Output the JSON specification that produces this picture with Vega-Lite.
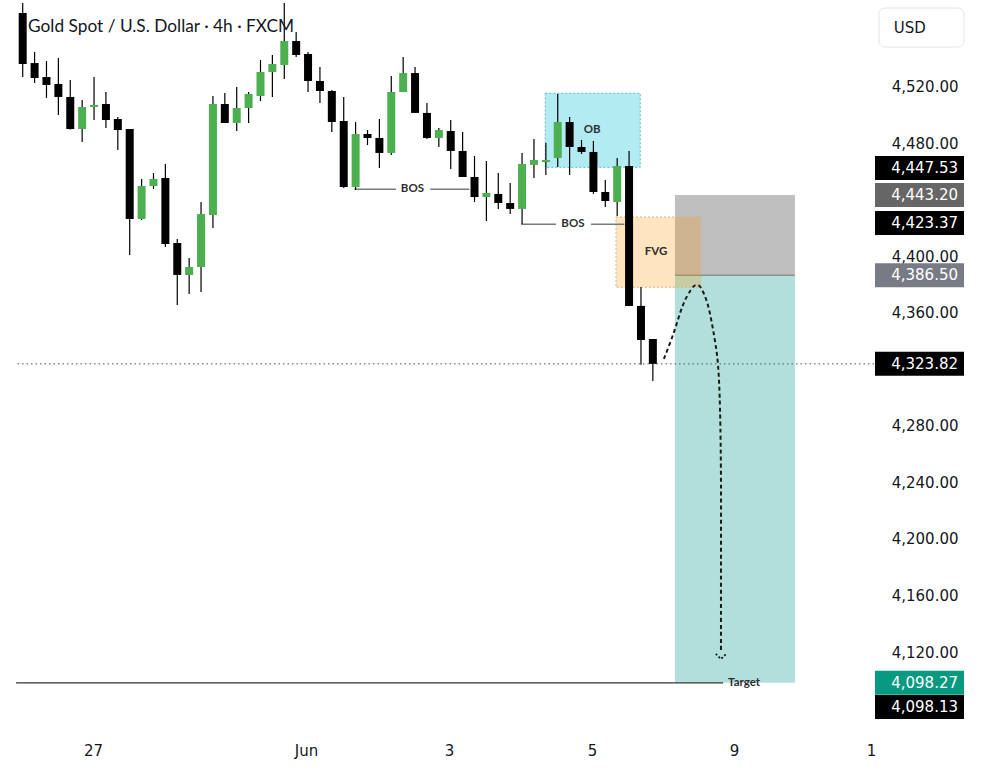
{
  "$schema": "https://vega.github.io/schema/vega-lite/v6.json",
  "background": "#ffffff",
  "padding": {"left": 15, "top": 3, "right": 10, "bottom": 5},
  "spacing": 1,
  "bounds": "flush",
  "datasets": {
    "candles": [
      {"i": 1, "o": 4572.0, "h": 4581.2, "l": 4526.7, "c": 4535.9},
      {"i": 2, "o": 4536.6, "h": 4544.4, "l": 4522.5, "c": 4526.0},
      {"i": 3, "o": 4526.7, "h": 4538.0, "l": 4511.9, "c": 4521.1},
      {"i": 4, "o": 4521.8, "h": 4540.2, "l": 4499.8, "c": 4512.6},
      {"i": 5, "o": 4512.6, "h": 4524.6, "l": 4489.5, "c": 4489.9},
      {"i": 6, "o": 4489.9, "h": 4510.5, "l": 4480.7, "c": 4505.5},
      {"i": 7, "o": 4505.5, "h": 4526.7, "l": 4496.3, "c": 4506.9},
      {"i": 8, "o": 4507.6, "h": 4516.1, "l": 4490.6, "c": 4496.3},
      {"i": 9, "o": 4497.0, "h": 4498.4, "l": 4475.1, "c": 4489.2},
      {"i": 10, "o": 4489.9, "h": 4489.9, "l": 4400.8, "c": 4426.3},
      {"i": 11, "o": 4426.3, "h": 4454.6, "l": 4425.6, "c": 4449.6},
      {"i": 12, "o": 4449.6, "h": 4458.8, "l": 4447.5, "c": 4454.6},
      {"i": 13, "o": 4455.3, "h": 4465.2, "l": 4406.5, "c": 4408.6},
      {"i": 14, "o": 4409.3, "h": 4412.1, "l": 4365.5, "c": 4386.7},
      {"i": 15, "o": 4386.7, "h": 4398.7, "l": 4373.2, "c": 4392.3},
      {"i": 16, "o": 4392.3, "h": 4438.3, "l": 4374.6, "c": 4429.8},
      {"i": 17, "o": 4429.1, "h": 4513.3, "l": 4420.0, "c": 4507.6},
      {"i": 18, "o": 4507.6, "h": 4515.4, "l": 4494.2, "c": 4494.2},
      {"i": 19, "o": 4494.2, "h": 4519.6, "l": 4488.5, "c": 4504.8},
      {"i": 20, "o": 4504.8, "h": 4516.1, "l": 4494.2, "c": 4514.7},
      {"i": 21, "o": 4513.3, "h": 4538.7, "l": 4509.7, "c": 4530.3},
      {"i": 22, "o": 4530.3, "h": 4542.3, "l": 4512.6, "c": 4535.9},
      {"i": 23, "o": 4535.2, "h": 4579.1, "l": 4525.3, "c": 4552.2},
      {"i": 24, "o": 4552.2, "h": 4558.5, "l": 4540.9, "c": 4542.3},
      {"i": 25, "o": 4543.0, "h": 4544.4, "l": 4516.1, "c": 4523.9},
      {"i": 26, "o": 4523.9, "h": 4533.8, "l": 4508.3, "c": 4516.8},
      {"i": 27, "o": 4516.8, "h": 4517.5, "l": 4487.8, "c": 4494.9},
      {"i": 28, "o": 4495.6, "h": 4512.6, "l": 4448.2, "c": 4448.9},
      {"i": 29, "o": 4448.9, "h": 4494.9, "l": 4446.8, "c": 4486.4},
      {"i": 30, "o": 4486.4, "h": 4489.2, "l": 4478.6, "c": 4483.6},
      {"i": 31, "o": 4483.6, "h": 4497.0, "l": 4462.4, "c": 4473.0},
      {"i": 32, "o": 4473.0, "h": 4527.4, "l": 4471.5, "c": 4516.1},
      {"i": 33, "o": 4516.1, "h": 4540.9, "l": 4516.1, "c": 4529.5},
      {"i": 34, "o": 4529.5, "h": 4533.8, "l": 4501.3, "c": 4501.3},
      {"i": 35, "o": 4501.3, "h": 4508.3, "l": 4482.9, "c": 4483.6},
      {"i": 36, "o": 4483.6, "h": 4490.6, "l": 4477.2, "c": 4489.2},
      {"i": 37, "o": 4488.5, "h": 4496.3, "l": 4461.6, "c": 4474.4},
      {"i": 38, "o": 4474.4, "h": 4487.8, "l": 4456.0, "c": 4456.0},
      {"i": 39, "o": 4456.0, "h": 4470.8, "l": 4438.3, "c": 4441.8},
      {"i": 40, "o": 4441.8, "h": 4467.3, "l": 4424.9, "c": 4444.7},
      {"i": 41, "o": 4444.0, "h": 4458.8, "l": 4433.4, "c": 4437.6},
      {"i": 42, "o": 4437.6, "h": 4451.7, "l": 4429.8, "c": 4433.4},
      {"i": 43, "o": 4433.4, "h": 4473.0, "l": 4422.7, "c": 4465.2},
      {"i": 44, "o": 4464.5, "h": 4482.9, "l": 4455.3, "c": 4468.0},
      {"i": 45, "o": 4466.6, "h": 4480.0, "l": 4457.4, "c": 4468.0},
      {"i": 46, "o": 4469.4, "h": 4514.7, "l": 4463.1, "c": 4494.9},
      {"i": 47, "o": 4494.9, "h": 4498.4, "l": 4457.4, "c": 4477.2},
      {"i": 48, "o": 4477.2, "h": 4482.2, "l": 4472.3, "c": 4473.7},
      {"i": 49, "o": 4473.7, "h": 4481.5, "l": 4444.0, "c": 4445.4},
      {"i": 50, "o": 4445.4, "h": 4453.9, "l": 4434.8, "c": 4439.0},
      {"i": 51, "o": 4438.3, "h": 4469.4, "l": 4428.4, "c": 4463.8},
      {"i": 52, "o": 4463.8, "h": 4474.4, "l": 4364.8, "c": 4364.8},
      {"i": 53, "o": 4364.8, "h": 4378.2, "l": 4323.1, "c": 4340.7},
      {"i": 54, "o": 4341.4, "h": 4341.4, "l": 4311.7, "c": 4323.8}
    ],
    "bos": [
      {"i1": 28.89, "i2": 32.4, "p": 4447.3},
      {"i1": 35.28, "i2": 38.56, "p": 4447.3},
      {"i1": 42.91, "i2": 45.86, "p": 4422.5},
      {"i1": 48.8, "i2": 51.6, "p": 4422.5}
    ],
    "notes": [
      {"t": "BOS", "i": 33.78, "p": 4447.3},
      {"t": "BOS", "i": 47.28, "p": 4422.5},
      {"t": "OB", "i": 48.9, "p": 4489.2},
      {"t": "FVG", "i": 54.27, "p": 4403.2}
    ],
    "path": [
      {"k": 1, "i": 54.93, "p": 4327.3},
      {"k": 2, "i": 55.69, "p": 4344.2},
      {"k": 3, "i": 56.53, "p": 4365.4},
      {"k": 4, "i": 57.2, "p": 4376.1},
      {"k": 5, "i": 57.62, "p": 4379.6},
      {"k": 6, "i": 58.05, "p": 4377.5},
      {"k": 7, "i": 58.63, "p": 4365.4},
      {"k": 8, "i": 59.14, "p": 4344.2},
      {"k": 9, "i": 59.48, "p": 4323.0},
      {"k": 10, "i": 59.65, "p": 4291.2},
      {"k": 11, "i": 59.73, "p": 4241.7},
      {"k": 12, "i": 59.73, "p": 4185.1},
      {"k": 13, "i": 59.73, "p": 4120.0}
    ],
    "badges": [
      {"price": 4447.53, "kind": "level"},
      {"price": 4443.2, "kind": "stop"},
      {"price": 4423.37, "kind": "level"},
      {"price": 4386.5, "kind": "entry"},
      {"price": 4323.82, "kind": "last"},
      {"price": 4098.27, "kind": "target"},
      {"price": 4098.13, "kind": "level"}
    ]
  },
  "hconcat": [
    {
      "width": 858,
      "height": 732,
      "layer": [
        {
          "data": {"values": [{"i1": 55.86, "i2": 65.95, "p1": 4386.5, "p2": 4098.27}]},
          "mark": {"type": "rect", "color": "#b2dfdb"},
          "encoding": {
            "x": {"field": "i1", "type": "quantitative"},
            "x2": {"field": "i2"},
            "y": {"field": "p1", "type": "quantitative"},
            "y2": {"field": "p2"}
          }
        },
        {
          "data": {"values": [{"i1": 55.86, "i2": 65.95, "p1": 4443.2, "p2": 4386.5}]},
          "mark": {"type": "rect", "color": "#bfbfbf"},
          "encoding": {
            "x": {"field": "i1", "type": "quantitative"},
            "x2": {"field": "i2"},
            "y": {"field": "p1", "type": "quantitative"},
            "y2": {"field": "p2"}
          }
        },
        {
          "data": {"values": [{"i1": 55.86, "i2": 65.95, "p": 4386.5}]},
          "mark": {"type": "rule", "color": "#8e9090", "strokeWidth": 1.5},
          "encoding": {
            "x": {"field": "i1", "type": "quantitative"},
            "x2": {"field": "i2"},
            "y": {"field": "p", "type": "quantitative"}
          }
        },
        {
          "data": {"values": [{"i1": 44.95, "i2": 52.94, "p1": 4515.2, "p2": 4462.8}]},
          "mark": {"type": "rect", "fill": "#00bcd4", "fillOpacity": 0.3, "stroke": "#5bb8cc", "strokeWidth": 1, "strokeDash": [2, 2]},
          "encoding": {
            "x": {"field": "i1", "type": "quantitative"},
            "x2": {"field": "i2"},
            "y": {"field": "p1", "type": "quantitative"},
            "y2": {"field": "p2"}
          }
        },
        {
          "data": {"values": [{"i1": 50.9, "i2": 57.99, "p1": 4427.7, "p2": 4378.0}]},
          "mark": {"type": "rect", "fill": "#ff9800", "fillOpacity": 0.25, "stroke": "#d9b27a", "strokeWidth": 1, "strokeDash": [2, 2]},
          "encoding": {
            "x": {"field": "i1", "type": "quantitative"},
            "x2": {"field": "i2"},
            "y": {"field": "p1", "type": "quantitative"},
            "y2": {"field": "p2"}
          }
        },
        {
          "data": {"values": [{"p": 4323.82}]},
          "mark": {"type": "rule", "color": "#555555", "strokeWidth": 1, "strokeDash": [1.5, 3]},
          "encoding": {"y": {"field": "p", "type": "quantitative"}}
        },
        {
          "data": {"values": [{"i1": 0.44, "i2": 59.9, "p": 4098.13}]},
          "mark": {"type": "rule", "color": "#333333", "strokeWidth": 1.2},
          "encoding": {
            "x": {"field": "i1", "type": "quantitative"},
            "x2": {"field": "i2"},
            "y": {"field": "p", "type": "quantitative"}
          }
        },
        {
          "data": {"name": "bos"},
          "mark": {"type": "rule", "color": "#7a7a7a", "strokeWidth": 1.5},
          "encoding": {
            "x": {"field": "i1", "type": "quantitative"},
            "x2": {"field": "i2"},
            "y": {"field": "p", "type": "quantitative"}
          }
        },
        {
          "data": {"name": "candles"},
          "mark": {"type": "rule", "color": "#000000", "strokeWidth": 1.2, "clip": true},
          "encoding": {
            "x": {
              "field": "i",
              "type": "quantitative",
              "scale": {"domain": [0.4365, 72.6], "nice": false, "zero": false, "padding": 0},
              "axis": {
                "title": null,
                "values": [6.91, 24.83, 36.85, 48.88, 60.82, 72.35],
                "labelExpr": "datum.value < 10 ? '27' : datum.value < 30 ? 'Jun' : datum.value < 40 ? '3' : datum.value < 55 ? '5' : datum.value < 65 ? '9' : '1'",
                "grid": false,
                "domain": false,
                "ticks": false,
                "tickSize": 0,
                "labelPadding": 15,
                "labelBaseline": "middle",
                "labelFlush": false,
                "labelOverlap": false,
                "labelFont": "DejaVu Sans",
                "labelFontSize": 15,
                "labelColor": "#131722"
              }
            },
            "y": {
              "field": "l",
              "type": "quantitative",
              "scale": {"domain": [4061.3, 4579.06], "nice": false, "zero": false, "padding": 0},
              "axis": {
                "title": null,
                "orient": "right",
                "values": [4520, 4480, 4400, 4360, 4280, 4240, 4200, 4160, 4120],
                "format": ",.2f",
                "grid": false,
                "domain": false,
                "ticks": false,
                "tickSize": 0,
                "labelAlign": "right",
                "labelBaseline": "middle",
                "labelPadding": 84,
                "labelFont": "DejaVu Sans",
                "labelFontSize": 15,
                "labelColor": "#131722"
              }
            },
            "y2": {"field": "h"}
          }
        },
        {
          "data": {"name": "candles"},
          "mark": {"type": "bar", "width": 8, "clip": true},
          "encoding": {
            "x": {"field": "i", "type": "quantitative"},
            "y": {"field": "o", "type": "quantitative"},
            "y2": {"field": "c"},
            "color": {"condition": {"test": "datum.c > datum.o", "value": "#4caf50"}, "value": "#000000"}
          }
        },
        {
          "data": {"name": "notes"},
          "mark": {"type": "text", "font": "Lato", "fontSize": 11.5, "fontWeight": "bold", "color": "#2e2e2e", "align": "center", "baseline": "middle"},
          "encoding": {
            "x": {"field": "i", "type": "quantitative"},
            "y": {"field": "p", "type": "quantitative"},
            "text": {"field": "t"}
          }
        },
        {
          "data": {"values": [{"t": "Target", "i": 60.33, "p": 4098.13}]},
          "mark": {"type": "text", "font": "Lato", "fontSize": 11.5, "fontWeight": "bold", "color": "#2e2e2e", "align": "left", "baseline": "middle"},
          "encoding": {
            "x": {"field": "i", "type": "quantitative"},
            "y": {"field": "p", "type": "quantitative"},
            "text": {"field": "t"}
          }
        },
        {
          "data": {"name": "path"},
          "mark": {"type": "line", "interpolate": "cardinal", "color": "#1a1a1a", "strokeWidth": 2, "strokeDash": [4, 3]},
          "encoding": {
            "x": {"field": "i", "type": "quantitative"},
            "y": {"field": "p", "type": "quantitative"},
            "order": {"field": "k"}
          }
        },
        {
          "data": {"values": [{"i": 59.73, "p": 4116.5}]},
          "mark": {"type": "point", "shape": "M -1 -0.6 L 0 0.4 L 1 -0.6", "filled": false, "size": 110, "strokeWidth": 1.8, "color": "#1a1a1a", "strokeDash": [2, 2], "opacity": 1},
          "encoding": {
            "x": {"field": "i", "type": "quantitative"},
            "y": {"field": "p", "type": "quantitative"}
          }
        },
        {
          "data": {"values": [{"t": "Gold Spot / U.S. Dollar · 4h · FXCM", "i": 1.45, "p": 4558.8}]},
          "mark": {"type": "text", "font": "Lato", "fontSize": 17.3, "color": "#131722", "align": "left", "baseline": "alphabetic"},
          "encoding": {
            "x": {"field": "i", "type": "quantitative"},
            "y": {"field": "p", "type": "quantitative"},
            "text": {"field": "t"}
          }
        }
      ]
    },
    {
      "width": 89,
      "height": 732,
      "layer": [
        {
          "data": {"values": [{"a": 0.045, "b": 1.0, "p1": 4575.5, "p2": 4547.9}]},
          "mark": {"type": "rect", "fill": "#ffffff", "stroke": "#e0e3eb", "strokeWidth": 1, "cornerRadius": 6},
          "encoding": {
            "x": {"field": "a", "type": "quantitative", "scale": {"domain": [0, 1], "nice": false, "zero": false, "padding": 0}, "axis": null},
            "x2": {"field": "b"},
            "y": {"field": "p1", "type": "quantitative", "scale": {"domain": [4061.3, 4579.06], "nice": false, "zero": false, "padding": 0}, "axis": null},
            "y2": {"field": "p2"}
          }
        },
        {
          "data": {"values": [{"a": 0.21, "p": 4561.7, "t": "USD"}]},
          "mark": {"type": "text", "align": "left", "baseline": "middle", "font": "DejaVu Sans", "fontSize": 15, "color": "#131722"},
          "encoding": {
            "x": {"field": "a", "type": "quantitative"},
            "y": {"field": "p", "type": "quantitative"},
            "text": {"field": "t"}
          }
        },
        {
          "data": {"name": "badges"},
          "transform": [{"filter": "datum.price != 4447.53 && datum.price != 4098.13"}],
          "mark": {"type": "rect", "height": 24},
          "encoding": {
            "x": {"datum": 0, "type": "quantitative"},
            "x2": {"datum": 1},
            "y": {"field": "price", "type": "quantitative"},
            "color": {
              "field": "kind",
              "type": "nominal",
              "scale": {"domain": ["level", "stop", "entry", "last", "target"], "range": ["#000000", "#666666", "#787b86", "#000000", "#089981"]},
              "legend": null
            }
          }
        },
        {
          "data": {"name": "badges"},
          "transform": [{"filter": "datum.price != 4447.53 && datum.price != 4098.13"}],
          "mark": {"type": "text", "align": "right", "baseline": "middle", "dx": -6, "font": "DejaVu Sans", "fontSize": 15, "color": "#ffffff"},
          "encoding": {
            "x": {"datum": 1, "type": "quantitative"},
            "y": {"field": "price", "type": "quantitative"},
            "text": {"field": "price", "format": ",.2f"}
          }
        },
        {
          "data": {"name": "badges"},
          "transform": [{"filter": "datum.price == 4447.53"}],
          "mark": {"type": "rect", "height": 24, "yOffset": -21},
          "encoding": {
            "x": {"datum": 0, "type": "quantitative"},
            "x2": {"datum": 1},
            "y": {"field": "price", "type": "quantitative"},
            "color": {"field": "kind", "type": "nominal", "legend": null}
          }
        },
        {
          "data": {"name": "badges"},
          "transform": [{"filter": "datum.price == 4447.53"}],
          "mark": {"type": "text", "align": "right", "baseline": "middle", "dx": -6, "yOffset": -21, "font": "DejaVu Sans", "fontSize": 15, "color": "#ffffff"},
          "encoding": {
            "x": {"datum": 1, "type": "quantitative"},
            "y": {"field": "price", "type": "quantitative"},
            "text": {"field": "price", "format": ",.2f"}
          }
        },
        {
          "data": {"name": "badges"},
          "transform": [{"filter": "datum.price == 4098.13"}],
          "mark": {"type": "rect", "height": 24, "yOffset": 24},
          "encoding": {
            "x": {"datum": 0, "type": "quantitative"},
            "x2": {"datum": 1},
            "y": {"field": "price", "type": "quantitative"},
            "color": {"field": "kind", "type": "nominal", "legend": null}
          }
        },
        {
          "data": {"name": "badges"},
          "transform": [{"filter": "datum.price == 4098.13"}],
          "mark": {"type": "text", "align": "right", "baseline": "middle", "dx": -6, "yOffset": 24, "font": "DejaVu Sans", "fontSize": 15, "color": "#ffffff"},
          "encoding": {
            "x": {"datum": 1, "type": "quantitative"},
            "y": {"field": "price", "type": "quantitative"},
            "text": {"field": "price", "format": ",.2f"}
          }
        }
      ]
    }
  ],
  "config": {"view": {"stroke": null}}
}
